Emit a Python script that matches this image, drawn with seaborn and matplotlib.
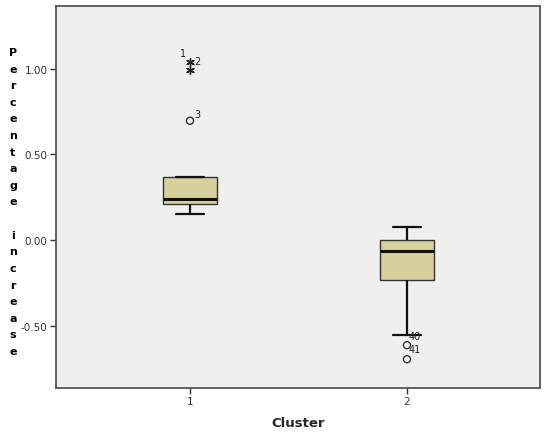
import numpy as np
import pandas as pd
import matplotlib
matplotlib.use("Agg")
import matplotlib.pyplot as plt
import seaborn as sns

# ---- data ----
cluster1 = [0.152, 0.17, 0.19, 0.21, 0.22, 0.23, 0.24, 0.28, 0.33, 0.37, 0.696, 0.99, 1.04]
cluster2 = [-0.696, -0.614, -0.555, -0.45, -0.33, -0.235, -0.20, -0.16, -0.12, -0.09,
            -0.065, -0.05, -0.04, -0.03, -0.01, 0.0, 0.02, 0.03, 0.05, 0.06, 0.076]
cluster_names = ["1", "2"]
outlier_labels = {1.04: "1", 0.99: "2", 0.696: "3", -0.614: "40", -0.696: "41"}
y_ticks = [-0.5, 0.0, 0.5, 1.0]
y_ticklabels = ["-0.50", "0.00", "0.50", "1.00"]
ylabel_text = "Percentage increase"

df = pd.DataFrame({
    "Cluster": [cluster_names[0]] * len(cluster1) + [cluster_names[1]] * len(cluster2),
    "value": cluster1 + cluster2,
})

sns.set_style("white")
plt.rcParams["font.family"] = ["DejaVu Sans"]

fig = plt.figure(figsize=(5.5, 4.35), dpi=100)
W, H = 550, 435
ax = fig.add_axes([56 / W, 1 - 389 / H, (540 - 56) / W, (389 - 7) / H])
ax.set_facecolor("#EFEFEF")

box_color = "#D6D09C"
sns.boxplot(data=df, x="Cluster", y="value", order=cluster_names, ax=ax,
            width=0.253, showfliers=False, color=box_color, saturation=1,
            linecolor="#1a1a1a", linewidth=1.2,
            medianprops=dict(linewidth=2.2, color="#111111"),
            whiskerprops=dict(linewidth=1.6, color="#111111"),
            capprops=dict(linewidth=1.6, color="#111111"),
            boxprops=dict(linewidth=1.0, edgecolor="#333333"))

# outliers by Tukey fences (circles > 1.5 IQR, stars > 3 IQR)
rows = []
for name, vals in zip(cluster_names, [cluster1, cluster2]):
    v = np.asarray(vals)
    q1, q3 = np.percentile(v, [25, 75])
    iqr = q3 - q1
    for val in v:
        if val > q3 + 3 * iqr or val < q1 - 3 * iqr:
            rows.append((name, val, "extreme"))
        elif val > q3 + 1.5 * iqr or val < q1 - 1.5 * iqr:
            rows.append((name, val, "outlier"))
odf = pd.DataFrame(rows, columns=["Cluster", "value", "kind"])

sns.scatterplot(data=odf[odf.kind == "outlier"], x="Cluster", y="value", ax=ax,
                marker="o", s=26, facecolor="none", edgecolor="#222222", linewidth=0.9,
                legend=False, zorder=5)
sns.scatterplot(data=odf[odf.kind == "extreme"], x="Cluster", y="value", ax=ax,
                marker=(6, 2, 0), s=30, color="#222222", edgecolor="#222222", linewidth=1.0,
                legend=False, zorder=5)

offsets = {1.04: (-7, 9), 0.99: (7, 9), 0.696: (7, 7), -0.614: (8, 9), -0.696: (8, 10)}
xpos = {"1": 0, "2": 1}
for _, r in odf.iterrows():
    key = round(r.value, 3)
    if key in outlier_labels:
        ax.annotate(outlier_labels[key], (xpos[r.Cluster], r.value),
                    xytext=offsets[key], textcoords="offset pixels",
                    ha="center", va="center", fontsize=7, color="#222222")

ax.set_xlim(-0.6175, 1.613)
ax.set_ylim(-0.864, 1.366)
ax.set_yticks(y_ticks)
ax.set_yticklabels(y_ticklabels)
ax.tick_params(axis="both", direction="out", length=4, width=1, color="#333333",
               labelsize=7.5, labelcolor="#333333", pad=2, left=True, bottom=True)
ax.set_xlabel("Cluster", fontsize=9.5, fontweight="bold", labelpad=7)
ax.set_ylabel("")
for s in ax.spines.values():
    s.set_color("#555555")
    s.set_linewidth(1.3)

# stacked vertical y label
chars = list(ylabel_text)
y_top, y_bot = 53, 352
step = (y_bot - y_top) / (len(chars) - 1)
for i, ch in enumerate(chars):
    fig.text(13 / W, 1 - (y_top + i * step) / H, ch, ha="center", va="center",
             fontsize=8, fontweight="bold", color="#000000")

fig.savefig("out.png", dpi=100, facecolor="white")
